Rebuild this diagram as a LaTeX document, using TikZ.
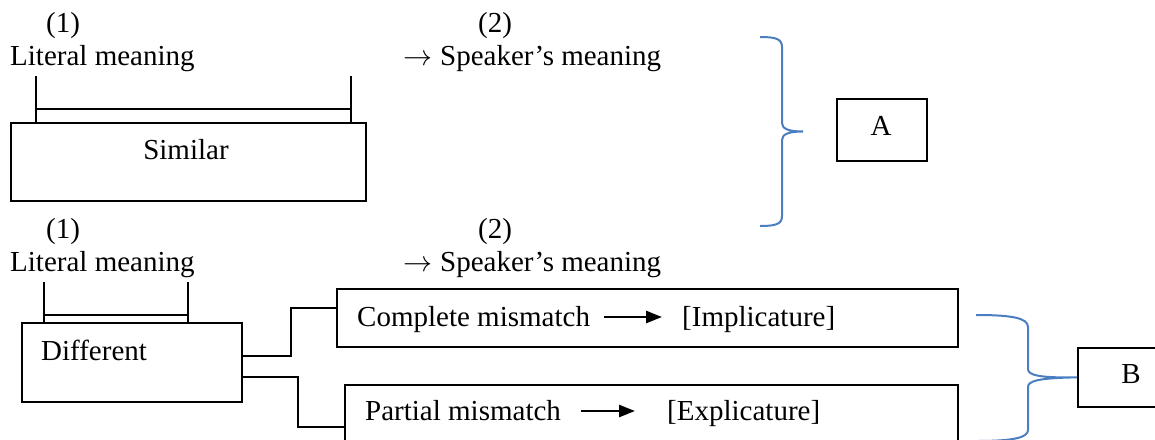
\documentclass[tikz,border=0pt]{standalone}
\usepackage{graphicx}
\usepackage{fontspec}
\setmainfont{Liberation Serif}
\usetikzlibrary{arrows.meta,calc}
\definecolor{braceblue}{RGB}{74,126,193}
\newcommand{\spkarrow}{\resizebox{29pt}{!}{$\rightarrow$}\hspace{8pt}}
\begin{document}
\begin{tikzpicture}[
  x=1pt, y=-1pt,
  every node/.style={inner sep=0pt, font=\fontsize{29}{34}\selectfont},
  txt/.style={anchor=base west},
  ctxt/.style={anchor=base},
  box/.style={draw, line width=1.7pt, anchor=north west},
  wire/.style={line width=1.7pt},
  brace/.style={draw=braceblue, line width=2pt},
  fat/.style={line width=2.5pt, -{Triangle[length=16pt,width=12pt]}},
]
\useasboundingbox (0,0) rectangle (1155,439);
\clip (0,0) rectangle (1155,439);

% ---------- upper block: similar meanings ----------
\node[txt] (numA1) at (46,32) {(1)};
\node[txt] (litA)  at (10,65) {Literal meaning};
\node[txt] (numA2) at (478,32) {(2)};
\node[txt] (spkA)  at (403,65) {\spkarrow Speaker’s meaning};

\node[box, minimum width=355pt, minimum height=78pt] (similar) at (10,122) {};
\node[ctxt] (similarT) at (186,159) {Similar};

% bracket over the box
\coordinate (sa) at (36,76);
\coordinate (sb) at (351,76);
\coordinate (ha) at (36,109);
\coordinate (hb) at (351,109);
\draw[wire] (sa) -- (sa |- similar.north);
\draw[wire] (sb) -- (sb |- similar.north);
\draw[wire] (ha) -- (hb);

% brace and label A
\draw[brace] (760,37) .. controls (776,37) and (782,39) .. (782,47)
  -- (782,123) .. controls (782,129) and (789,131.5) .. (803,131.5) coordinate (tipA)
  .. controls (789,131.5) and (782,134) .. (782,140)
  -- (782,216) .. controls (782,224) and (776,226) .. (760,226);
\node[box, minimum width=90pt, minimum height=62pt] (boxA) at (836,98) {};
\node[ctxt] (labA) at (881,135) {A};

% ---------- lower block: different meanings ----------
\node[txt] (numB1) at (46,238) {(1)};
\node[txt] (litB)  at (10,271) {Literal meaning};
\node[txt] (numB2) at (478,238) {(2)};
\node[txt] (spkB)  at (403,271) {\spkarrow Speaker’s meaning};

\node[box, minimum width=220pt, minimum height=79pt] (diff) at (21,322) {};
\node[txt] (diffT) at (41,360) {Different};

\coordinate (da) at (44,282);
\coordinate (db) at (188,282);
\coordinate (ga) at (44,315);
\coordinate (gb) at (188,315);
\draw[wire] (da) -- (da |- diff.north);
\draw[wire] (db) -- (db |- diff.north);
\draw[wire] (ga) -- (gb);

% complete mismatch
\node[box, minimum width=621pt, minimum height=58pt] (cbox) at (336,288) {};
\node[txt] (cm)  at (357,326) {Complete mismatch};
\node[txt] (imp) at (682,326) {[Implicature]};
\draw[fat] ([xshift=14pt,yshift=9pt]cm.base east) -- ([xshift=-20pt,yshift=9pt]imp.base west);

% partial mismatch
\node[box, minimum width=613pt, minimum height=75pt] (pbox) at (344,384) {};
\node[txt] (pm)  at (365,420) {Partial mismatch};
\node[txt] (exp) at (667,420) {[Explicature]};
\draw[fat] ([xshift=20pt,yshift=9pt]pm.base east) -- ([xshift=-32pt,yshift=9pt]exp.base west);

% elbow connectors from "Different"
\draw[wire] ([yshift=-34pt]diff.north east) -- ++(48,0) |- ([yshift=-20pt]cbox.north west);
\draw[wire] ([yshift=-55pt]diff.north east) -- ++(55,0) |- ([yshift=-43pt]pbox.north west);

% brace and label B
\node[box, minimum width=90pt, minimum height=59pt] (boxB) at (1077,347) {};
\node[ctxt] (labB) at (1131,383) {B};
\draw[brace] (976,315) .. controls (1012,315) and (1028,318) .. (1028,327)
  -- (1028,369) .. controls (1028,375) and (1038,378) .. (boxB.west)
  .. controls (1038,378) and (1028,381) .. (1028,387)
  -- (1028,430) .. controls (1028,438) and (1012,441) .. (976,441);
\end{tikzpicture}
\end{document}
